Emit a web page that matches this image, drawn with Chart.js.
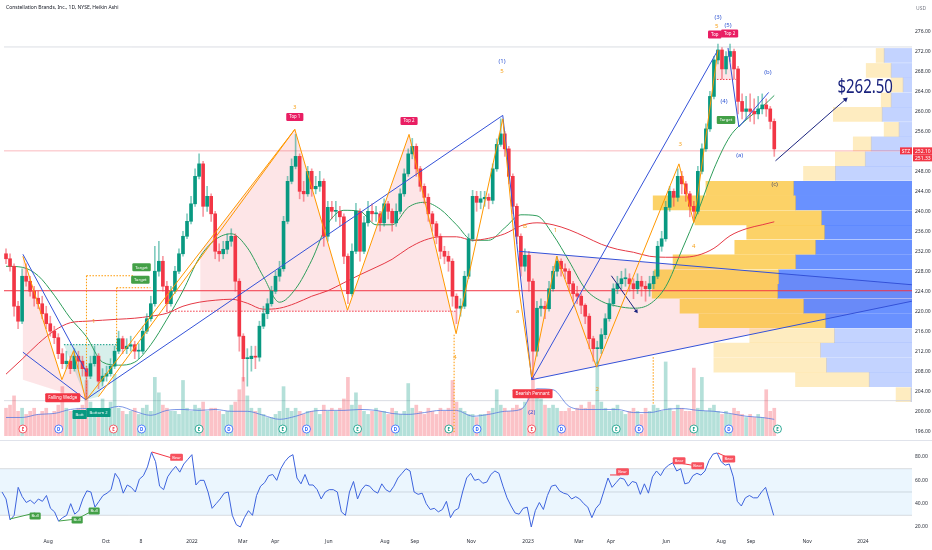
<!DOCTYPE html>
<html>
<head>
<meta charset="utf-8">
<script src="https://cdn.jsdelivr.net/npm/chart.js@4.4.1/dist/chart.umd.min.js"></script>
<style>
html,body{margin:0;padding:0;background:#ffffff;}
#wrap{position:relative;width:932px;height:550px;overflow:hidden;background:#fff;font-family:"Noto Sans",Roboto,sans-serif;}
#c1{position:absolute;left:0;top:0;width:932px;height:440px;}
#c2{position:absolute;left:0;top:441px;width:932px;height:109px;}
#sep{position:absolute;left:0;top:440px;width:932px;height:1px;background:#e0e3eb;}
#title{position:absolute;left:6px;top:4px;font-size:5px;line-height:6px;color:#131722;white-space:nowrap;}
#usd{position:absolute;left:916px;top:5px;font-size:5px;line-height:6px;color:#787b86;}
</style>
</head>
<body>
<div id="wrap">
<canvas id="c1" width="932" height="440"></canvas>
<div id="sep"></div>
<canvas id="c2" width="932" height="109"></canvas>
<div id="title">Constellation Brands, Inc., 1D, NYSE, Heikin Ashi</div>
<div id="usd">USD</div>
</div>
<script>
// ---------------- DATA (Heikin Ashi candles, one slot ≈ 3 sessions) ----------------
const firstOpen = 231.5;
const closes = [
230.5,229,221,218,227,226,224,222.6,221.5,219.5,
217.5,216,214.7,211.5,209.5,210,208.5,211,210,208.5,
207,209.5,211,206,207,207.5,209,212,214.5,212.5,
213,213.3,212,212,216,218.5,221.5,228,230,225,
221.5,224,228,231.5,235,238,241.5,247,249.5,241,
243,239.5,232,231.5,232.4,234,235,226,215,210.5,
210.5,211,210.8,217,219.5,221.5,224,227,228.5,238,
246,249,251,244,243.5,248,244.5,245,246,235,
240.8,240,240,238.9,231,223.5,232,240,232,237.7,
240,239.5,239.5,237.7,241.5,240,237.7,240,243.5,247.5,
251.5,253,248.5,245,242.8,239.5,237.5,235,232,231,
230,223,220.6,221,227,234.5,243,241.8,242.5,242.8,
242.2,248.5,253.4,255.5,252.5,247,241,235,229,231.2,
226,212,220.6,221,220.5,224.5,228,230,228.5,228,
225.5,223.5,223,221.2,219,214.5,212.5,212.5,215.3,218.5,
221.5,224.5,225.5,226.5,226.5,225.5,224.5,226,225,224.5,
225.5,227,233,234.5,240.8,244,242.8,247,245.5,243.5,
241,240,248,252.5,256.5,263,270.3,272.3,268.5,271,
272,268.5,262,260,260.5,260,259.5,260.5,261.3,260.5,
258,252.5];
const highs = [
232.5,231.5,229.5,222,228.5,229.5,227,225,224,223,
221,219,217,215.5,212.5,212,211,212.5,212,211,
209,211,213,211.5,208.5,209,210.5,213,216,215,
214.5,215,214,213.5,217,219.5,223,233,234,231,
226,225,229,232.5,236,239.5,243,248.5,251.5,250,
245,243.5,240,233.5,234,235.5,236.5,235.5,226.5,215.5,
212.5,213,213,218,221,222.5,225,228,230,239,
247,250.5,255.4,251.5,246,249,248.5,247,248,246.5,
242,242,242,241,239.5,231.5,233.5,241.6,240.5,239,
242,241.5,241,240,242.5,242,240.5,241.5,244.5,248.5,
252.5,254.6,253.5,249,245.5,243.5,240,238,235.5,233,
232,230.5,223.5,222.5,228,235.5,244.2,244,244,244,
243.5,249.5,254.5,258.5,256,253,247.5,241.5,235.5,232.5,
232,226.5,222,222.5,222,226,229,231,230.5,229.5,
228.5,226,225,223.5,221.5,219.5,215,214,216.5,219.5,
222.5,225.5,227,228,228.5,227.5,226.5,227.5,227,226,
227,228,234,236,242,245,244.5,248.5,248,246,
244,242,249,253.5,257.5,264,271,273.5,272.8,272,
273.5,272.5,269,263.5,263,263.5,262.5,263,263.5,262.5,
261,258.5];
const lows = [
229.5,228,219,216.5,217.5,225,223,221,220.5,218.5,
216.5,215,213.5,210.5,208.5,208.5,207.5,208,208.5,207,
202.5,206.5,209,204.5,205,206,207,208.5,211.5,211.5,
211.5,212,210.5,210.5,211.5,215.5,218,221,227,224,
220,221,223.5,227.5,231,234.5,237.5,241,246.5,239,
240,238,230.5,230,230.5,231.5,233,224,212,206,
205,208,208.5,210,216.5,218.5,221,223.5,226,228,
237.5,245.5,248.5,242.5,242,243,243,243.5,244,233,
234,238.5,238,237,229.5,221.5,223,231.5,230,231.5,
237,238,238,236,237,238.5,236,237,239.5,243,
247,250.5,247,244,241.5,238,236,233.5,230.5,229.5,
228,221,217.5,219,220.5,226.5,234,240,240.5,241,
240.5,241.5,248,253,251,245.5,239.5,233.5,227,228,
224,206.3,211,219,218.5,220,224,227,227,226.5,
224,222,221.5,219.5,217.5,212.5,210,209.5,211.5,214.5,
218,221,223.5,224.5,225,224,222.5,223.5,223,222,
223,224.5,226.5,232,234,240,241,242,243.5,242,
238.9,238,239.5,247.5,252,256,262.5,269.5,266.5,267.5,
270,266.5,259.5,258.5,258.5,258,257.5,258.5,259.5,259,
256.5,251];
const volumes = [
0.9,1.0,1.3,0.8,0.9,0.7,0.8,0.9,0.7,0.8,
0.9,0.7,0.8,1.0,1.6,0.9,0.8,0.7,0.9,1.0,
1.8,1.1,0.9,0.8,1.2,0.9,1.1,2.0,0.9,0.8,
0.7,0.8,0.9,0.7,0.9,1.0,0.8,1.9,1.4,1.0,
0.9,0.8,0.8,0.7,1.8,0.9,0.8,1.0,0.9,1.1,
0.8,0.9,0.9,0.8,0.7,0.8,1.0,1.1,1.5,1.9,
1.3,0.9,0.8,0.9,0.7,0.6,0.6,0.7,0.8,1.6,
0.9,0.8,0.9,0.8,0.7,0.8,0.8,0.9,0.7,1.0,
0.8,0.9,0.8,0.9,1.2,1.9,1.0,1.4,1.0,0.8,
0.7,0.8,0.9,0.8,0.8,0.7,0.9,0.8,0.7,0.8,
1.7,0.9,1.0,0.8,0.7,0.9,0.8,0.7,0.9,0.8,
0.9,1.8,1.1,0.9,0.8,0.7,0.7,0.6,0.7,0.7,
0.8,0.9,1.5,1.0,0.9,0.8,0.9,1.0,0.9,1.1,
1.4,1.9,1.5,1.2,1.0,0.9,1.0,0.9,0.8,0.8,
0.9,0.8,0.9,1.0,0.9,1.1,1.0,2.4,1.1,0.9,
0.8,0.9,1.0,0.8,0.7,0.8,0.9,0.8,0.7,0.9,
0.8,1.0,0.9,0.8,2.4,0.9,0.8,1.0,0.9,0.8,
0.8,2.2,0.9,1.9,0.8,0.9,1.0,0.8,0.7,0.8,
0.7,0.9,0.8,0.7,0.6,0.7,0.6,0.7,0.6,1.5,
0.8,0.9];
const rsiValues = [
50,44,26,30,54,46,41,43,40,44,
42,47,36,33,25,28,30,40,31,34,
44,51,50,37,42,47,49,52,66,61,
49,56,54,50,61,64,71.5,84,76,55,
52,63,68,72,67,74,78,82,56,60,
60,50,36,40,44,49,50,30,22,20,
28,34,30,47,55,58,64,65,60,70,
76,80,82,62,57,65,56,56,52,44,
50,52,52,50,33,30,50,59,44,52,
56,55,51,49,57,52,50,55,62,66,
70,68,50,48,49,40,35,36,33,35,
42,28,34,36,50,62,66,60,61,57.5,
58.5,65,68,66,55,45,38,32,31,36,
37,20,34,41,35,47,55,56,51,49,
48,44,46,44,40,37,28,36,40,51,
62,54,58,62,61,55,59,58,48,57,
49,63,68,64,70,73,75,68,70,57,
58,64,66,64.5,68,77,82.5,83.5,76,73,
74,63,42,38,45,47,45,45,50,54,
42,30];
// moving averages sampled every 4th candle (last value = last candle)
const MA_STEP = 4;
const sma50 = [229.0,228.8,227.1,223.2,218.6,214.9,209.8,209.2,209.8,213.3,
218.4,224.1,230.6,234.3,235.5,232.7,226.9,221.8,224.5,230.2,
237.5,240.2,240.0,237.3,237.3,240.8,241.8,240.4,237.3,234.2,
234.2,236.7,239.3,239.1,235.3,230.0,224.5,222.0,221.0,220.6,
221.4,224.9,232.2,239.9,248.5,255.0,258.3,260.9,263.2];
const sma200 = [207.4,210.4,213.5,216.1,217.7,218.0,218.2,218.4,218.6,219.0,
219.6,221.0,221.8,222.2,222.4,221.6,220.4,220.6,221.6,223.0,
224.1,225.7,227.3,228.8,230.4,232.6,234.2,234.9,234.9,234.2,
234.6,235.5,237.1,237.7,237.3,236.3,234.9,233.4,232.4,231.8,
231.0,230.8,230.8,231.2,232.6,235.1,236.5,237.3,237.9];
const volumeMA = [0.6,0.6,0.7,0.73,0.86,0.89,0.86,0.96,0.8,0.67,
0.83,0.86,0.83,0.86,0.8,0.8,0.67,0.54,0.64,0.8,
0.83,0.83,0.86,0.83,0.73,0.7,0.76,0.83,0.83,0.64,
0.7,0.8,0.86,1.53,1.5,0.96,0.86,0.86,0.86,0.76,
0.76,0.86,0.89,0.83,0.8,0.73,0.64,0.6,0.54];
// visible range volume profile (M shares per price row)
const profileRowPrice = [271.2,268.2,265.3,262.3,259.4,256.4,253.5,250.5,247.6,244.6,241.7,238.7,235.8,232.8,229.9,226.9,224.0,221.0,218.1,215.1,212.2,209.2,206.3,203.3];
const profileUp = [0.4,1.25,0.6,0.5,2.45,0.75,0.9,1.5,1.6,4.4,7.15,6.35,3.9,4.05,6.15,6.25,6.3,6.2,6.35,4.25,5.35,5.65,3.7,0.75];
const profileDown = [1.4,1.05,0.45,1.05,1.5,0.65,2.05,2.35,3.85,5.95,5.85,4.55,4.4,4.85,5.85,6.7,6.75,5.45,4.35,3.9,4.6,4.3,2.15,0.05];
const valueAreaRows = [9, 18];
// axis labels (candle slot positions)
const xTickIndex = [11.9,26.2,34.9,47.5,60.1,68.1,81.4,95.3,102.7,116.6,130.7,143.3,151.2,164.9,178.5,185.9,199.8,213.6];
const xTickLabels = ['Aug','Oct','8','2022','Mar','Apr','Jun','Aug','Sep','Nov','2023','Mar','Apr','Jun','Aug','Sep','Nov','2024'];
// price levels
const supportLevel = 224.1;
const necklinePrice = 220.0, necklineFrom = 40.3, necklineTo = 112.6;
const currentPrice = 252.1;
const rangeHigh = 272.9, rangeLow = 202.1;
const lastPriceTags = [252.10, 251.33];
const symbolTag = 'STZ';
// drawings [slot, price]
const wedgeUpper = [[4.7,231.4],[20.5,207.8]];
const wedgeLower = [[4.7,211.8],[20.3,202.3]];
const wedgeZigzag = [[4.7,231.0],[14.4,206.3],[17.3,212.1],[20.3,202.3]];
const wedgeZone = [[4.7,231.0],[14.4,206.3],[17.3,212.1],[20.3,202.3],[4.7,206.3],[4.7,231.0]];
const doubleBottomZone = [[14.9,213.3],[28.0,213.3],[23.5,202.9],[20.5,202.3],[14.9,213.3]];
const doubleBottomTop = [[14.9,213.3],[28.0,213.3]];
const riseLine1 = [[20.5,202.3],[72.3,256.4]];
const riseLine2 = [[23.5,202.9],[72.3,256.4]];
const waveZigzag = [[72.3,256.4],[85.4,220.2],[100.7,255.4],[112.4,215.5],[124.0,258.5],[128.0,224.5],[131.2,206.8],[137.4,231.0],[147.3,208.8],[167.8,249.5],[171.5,237.7],[177.5,272.3]];
const mPatternZone = [[48.8,220.0],[48.8,231.8],[72.3,256.4],[85.4,220.2],[100.7,255.4],[112.4,215.5],[112.4,220.0],[48.8,220.0]];
const blueTrend = [[20.3,202.3],[124.0,259.2],[131.2,206.3],[177.5,272.3]];
const pennantUpper = [[128.0,232.0],[225.7,225.3]];
const pennantLower = [[131.2,206.3],[225.7,222.0]];
const pennantZone = [[128.0,232.0],[225.7,225.3],[225.7,222.0],[131.2,206.3],[128.0,232.0]];
const topZone = [[176.5,266.4],[177.5,272.3],[178.7,268.1],[180.0,272.7],[181.9,266.4],[176.5,266.4]];
const topNeck = [[176.5,266.4],[181.9,266.4]];
const waveLines = [[180.0,272.7],[182.7,256.9],[190.1,263.8]];
const smallArrow = [[151.0,227.1],[157.2,220.0]];
const targetArrow = [[191.8,250.1],[209.2,262.4]];
const targetGuides = [
  [[20.5,227.1],[20.5,202.3]], [[20.5,227.1],[32.2,227.1]],
  [[28.0,224.7],[36.4,224.7]], [[28.0,224.7],[28.0,212.1]],
  [[111.9,215.3],[111.9,195.5]], [[161.4,210.8],[161.4,201.5]]
];
const earningsIdx = [4.7,27.2,48.5,69.3,87.9,110.6,131.2,152.2,171.5,192.3];
const earningsBeat = [false,false,true,true,true,true,false,true,true,true];
const dividendIdx = [13.6,34.2,55.9,75.2,97.3,117.6,138.6,157.9,180.2];
const annotations = [
 {t:'3', x:72.3, y:260.9, k:'orange'},
 {t:'Top 1', x:72.3, y:258.9, k:'top'},
 {t:'Top 2', x:100.7, y:258.1, k:'top'},
 {t:'(1)', x:123.8, y:270.1, k:'blue'},
 {t:'5', x:123.8, y:268.1, k:'orange'},
 {t:'(3)', x:177.5, y:278.9, k:'blue'},
 {t:'5', x:177.2, y:277.0, k:'orange'},
 {t:'(5)', x:180.0, y:277.2, k:'blue'},
 {t:'Top', x:176.7, y:275.4, k:'top'},
 {t:'Top 2', x:180.4, y:275.6, k:'top'},
 {t:'(b)', x:189.9, y:267.9, k:'blue'},
 {t:'(4)', x:179.0, y:262.0, k:'blue'},
 {t:'Target', x:179.5, y:258.3, k:'green'},
 {t:'(a)', x:182.9, y:251.2, k:'blue'},
 {t:'(c)', x:191.6, y:245.5, k:'dark'},
 {t:'3', x:168.1, y:253.4, k:'orange'},
 {t:'4', x:171.5, y:233.0, k:'orange'},
 {t:'1', x:137.1, y:236.1, k:'orange'},
 {t:'B', x:129.5, y:236.9, k:'orange'},
 {t:'a', x:127.7, y:220.0, k:'orange'},
 {t:'2', x:147.5, y:204.3, k:'orange'},
 {t:'4', x:112.1, y:210.7, k:'orange'},
 {t:'1', x:22.3, y:218.0, k:'orange'},
 {t:'(2)', x:131.2, y:199.7, k:'blue'},
 {t:'Bearish Pennant', x:131.4, y:203.5, k:'red'},
 {t:'Falling Wedge', x:14.6, y:202.7, k:'red'},
 {t:'Bott', x:18.8, y:199.3, k:'teal'},
 {t:'Bottom 2', x:23.5, y:199.7, k:'teal'},
 {t:'Target', x:34.2, y:228.8, k:'green'},
 {t:'Target', x:33.9, y:226.3, k:'green'},
 {t:'$262.50', x:214.1, y:264.8, k:'big'}
];
// RSI band & divergences
const rsiUpper = 70, rsiMid = 50, rsiLower = 30;
const bullLines = [[[2.5,26.9],[8.7,32.0]], [[14.6,25.1],[19.1,26.9]], [[19.1,26.9],[23.3,34.6]]];
const bearLines = [[[37.6,84.3],[42.6,79.1]], [[151.0,64.6],[153.5,64.6]], [[166.6,75.7],[172.5,72.3]], [[177.7,83.4],[180.4,79.1]]];
const rsiAnnotations = [
 {t:'Bull', x:8.7, y:29.4, k:'bull'}, {t:'Bull', x:19.1, y:26.0, k:'bull'}, {t:'Bull', x:23.3, y:33.7, k:'bull'},
 {t:'Bear', x:43.7, y:79.7, k:'bear'}, {t:'Bear', x:154.1, y:67.4, k:'bear'}, {t:'Bear', x:168.1, y:76.8, k:'bear'},
 {t:'Bear', x:172.7, y:72.5, k:'bear'}, {t:'Bear', x:180.4, y:78.3, k:'bear'}
];

// ---------------- LAYOUT / STYLE ----------------
const X_MAX = 225.74;
const PROF_UNITS = 4.95;
const FONT = '"Noto Sans", Roboto, sans-serif';
const UP = '#089981', DN = '#f23645';
Chart.defaults.font.family = FONT;

const N = closes.length;
const opens = closes.map((c, i) => i === 0 ? firstOpen : closes[i - 1]);
const isUp = closes.map((c, i) => c >= opens[i]);
const P = arr => arr.map(([x, y]) => ({x, y}));

function seg(points, color, extra) {
  return Object.assign({type:'line', data:P(points), borderColor:color, borderWidth:1, pointRadius:0,
    fill:false, tension:0, order:5}, extra || {});
}
function zone(points, color, order) {
  return {type:'line', data:P(points), fill:'shape', backgroundColor:color, borderWidth:0, borderColor:'rgba(0,0,0,0)',
    pointRadius:0, tension:0, order:order || 30};
}
function maLine(arr, color, axis, order, width) {
  return {type:'line', yAxisID:axis, data:arr.map((v, k) => ({x:Math.min(k * MA_STEP, N - 1) + 0.5, y:v})),
    borderColor:color, borderWidth:width || 1, pointRadius:0, fill:false, cubicInterpolationMode:'monotone', order:order};
}

const STYLES = {
  orange:{color:'#f7a21b', size:6},
  blue:{color:'#3056d3', size:6},
  dark:{color:'#4b4f6b', size:6},
  top:{bg:'#e91e63', size:4.4, padX:3, h:8},
  red:{bg:'#f23645', size:4.4, padX:3, h:9},
  green:{bg:'#43a047', size:4.2, padX:3, h:8},
  teal:{bg:'#089981', size:4.2, padX:3, h:9},
  big:{color:'#1a237e', size:20, scaleX:0.75},
  bull:{bg:'#43a047', size:4, padX:2, h:7},
  bear:{bg:'#f7525f', size:4, padX:2, h:7}
};
function drawLabels(chart, list) {
  const ctx = chart.ctx, xs = chart.scales.x, ys = chart.scales.y;
  ctx.save();
  ctx.textAlign = 'center'; ctx.textBaseline = 'middle';
  for (const a of list) {
    const st = STYLES[a.k];
    const px = xs.getPixelForValue(a.x), py = ys.getPixelForValue(a.y);
    ctx.font = st.size + 'px ' + FONT;
    if (st.bg) {
      const w = ctx.measureText(a.t).width + st.padX * 2;
      ctx.fillStyle = st.bg;
      ctx.beginPath();
      if (ctx.roundRect) ctx.roundRect(px - w / 2, py - st.h / 2, w, st.h, 1.2); else ctx.rect(px - w / 2, py - st.h / 2, w, st.h);
      ctx.fill();
      ctx.fillStyle = '#fff';
      ctx.fillText(a.t, px, py + 0.3);
    } else if (st.scaleX) {
      ctx.save(); ctx.translate(px, py); ctx.scale(st.scaleX, 1);
      ctx.fillStyle = st.color; ctx.fillText(a.t, 0, 0); ctx.restore();
    } else {
      ctx.fillStyle = st.color; ctx.fillText(a.t, px, py);
    }
  }
  ctx.restore();
}
function marker(ctx, cx, cy, col, letter) {
  ctx.beginPath(); ctx.arc(cx, cy, 4, 0, Math.PI * 2);
  ctx.fillStyle = '#fff'; ctx.fill();
  ctx.lineWidth = 0.8; ctx.strokeStyle = col; ctx.stroke();
  ctx.fillStyle = col; ctx.font = 'bold 4.5px ' + FONT;
  ctx.textAlign = 'center'; ctx.textBaseline = 'middle';
  ctx.fillText(letter, cx, cy + 0.3);
}
const mainPlugin = {
  id:'mainDecor',
  afterDatasetsDraw(chart) {
    const {ctx, chartArea, scales} = chart;
    ctx.save();
    const cy = chartArea.bottom - 7;
    earningsIdx.forEach((u, i) => marker(ctx, scales.x.getPixelForValue(u), cy, earningsBeat[i] ? UP : DN, 'E'));
    dividendIdx.forEach(u => marker(ctx, scales.x.getPixelForValue(u), cy, '#2962ff', 'D'));
    ctx.restore();
    drawLabels(chart, annotations);
  },
  afterDraw(chart) {
    const {ctx, chartArea, scales} = chart;
    ctx.save();
    ctx.font = '5px ' + FONT; ctx.textBaseline = 'middle';
    let prev = -99;
    lastPriceTags.forEach((v, i) => {
      const py = Math.max(scales.y.getPixelForValue(v), prev + 7);
      prev = py;
      ctx.fillStyle = DN;
      ctx.fillRect(chartArea.right + 1, py - 3.5, chart.width - chartArea.right - 1, 7);
      ctx.fillStyle = '#fff'; ctx.textAlign = 'left';
      ctx.fillText(v.toFixed(2), chartArea.right + 3, py + 0.3);
      if (i === 0) {
        ctx.fillStyle = DN;
        ctx.fillRect(chartArea.right - 12, py - 3.5, 12, 7);
        ctx.fillStyle = '#fff'; ctx.textAlign = 'center';
        ctx.fillText(symbolTag, chartArea.right - 6, py + 0.3);
      }
    });
    ctx.restore();
  }
};

// ---------------- MAIN CHART ----------------
const profColor = (k, up) => {
  const va = k >= valueAreaRows[0] && k <= valueAreaRows[1];
  return up ? (va ? 'rgba(251,192,45,0.72)' : 'rgba(251,192,45,0.3)') : (va ? 'rgba(41,98,255,0.7)' : 'rgba(41,98,255,0.28)');
};
const datasets = [
  zone(mPatternZone, 'rgba(242,54,69,0.13)'),
  zone(wedgeZone, 'rgba(242,54,69,0.13)'),
  zone(pennantZone, 'rgba(242,54,69,0.13)'),
  zone(topZone, 'rgba(242,54,69,0.13)'),
  zone(doubleBottomZone, 'rgba(8,153,129,0.16)'),
  {type:'bar', indexAxis:'y', grouped:false, barThickness:14, order:25, borderWidth:0,
   data:profileRowPrice.map((p, k) => { const xb = X_MAX - profileDown[k] * PROF_UNITS; return {y:p, x:[xb - profileUp[k] * PROF_UNITS, xb]}; }),
   backgroundColor:profileRowPrice.map((p, k) => profColor(k, true))},
  {type:'bar', indexAxis:'y', grouped:false, barThickness:14, order:25, borderWidth:0,
   data:profileRowPrice.map((p, k) => ({y:p, x:[X_MAX - profileDown[k] * PROF_UNITS, X_MAX]})),
   backgroundColor:profileRowPrice.map((p, k) => profColor(k, false))},
  seg([[0, rangeHigh], [X_MAX, rangeHigh]], '#d1d4dc', {order:22, borderWidth:0.8}),
  seg([[0, rangeLow], [X_MAX, rangeLow]], '#d1d4dc', {order:22, borderWidth:0.8}),
  seg([[0, supportLevel], [X_MAX, supportLevel]], '#f23645', {order:20}),
  seg([[0, currentPrice], [X_MAX, currentPrice]], 'rgba(242,54,69,0.35)', {order:20}),
  seg([[necklineFrom, necklinePrice], [necklineTo, necklinePrice]], '#f23645', {order:20, borderDash:[1.5, 1.5]}),
  seg(topNeck, '#f23645', {order:20, borderDash:[1.5, 1.5]}),
  seg(doubleBottomTop, '#089981', {order:20, borderDash:[1.5, 1.5]}),
  {type:'bar', yAxisID:'yv', grouped:false, barThickness:3, order:18, borderWidth:0,
   data:volumes.map((v, i) => ({x:i + 0.5, y:v})),
   backgroundColor:isUp.map(u => u ? 'rgba(8,153,129,0.3)' : 'rgba(242,54,69,0.3)')},
  maLine(volumeMA, '#5b7be0', 'yv', 17, 0.8),
  maLine(sma200, '#e53945', 'y', 15),
  maLine(sma50, '#2e9d5b', 'y', 15),
  ...targetGuides.map(g => seg(g, '#ff9800', {order:14, borderDash:[1.5, 1.5]})),
  {type:'bar', grouped:false, barThickness:1, order:12, borderWidth:0,
   data:closes.map((c, i) => ({x:i + 0.5, y:[lows[i], highs[i]]})),
   backgroundColor:isUp.map(u => u ? 'rgba(8,153,129,0.5)' : 'rgba(242,54,69,0.5)')},
  {type:'bar', grouped:false, barThickness:3, order:11, borderWidth:0, minBarLength:1,
   data:closes.map((c, i) => ({x:i + 0.5, y:[opens[i], c]})),
   backgroundColor:isUp.map(u => u ? UP : DN)},
  seg(wedgeUpper, '#3452d8'),
  seg(wedgeLower, '#3452d8'),
  seg(wedgeZigzag, '#ff9800'),
  seg(riseLine1, '#ff9800'),
  seg(riseLine2, '#ff9800'),
  seg(waveZigzag, '#ff9800'),
  seg(blueTrend, '#3452d8'),
  seg(pennantUpper, '#3452d8'),
  seg(pennantLower, '#3452d8'),
  seg(waveLines, '#3452d8'),
  seg(smallArrow, '#1a237e', {pointRadius:[0, 2.5], pointStyle:'triangle', pointRotation:145, pointBackgroundColor:'#1a237e', pointBorderWidth:0}),
  seg(targetArrow, '#1a237e', {pointRadius:[0, 3], pointStyle:'triangle', pointRotation:48, pointBackgroundColor:'#1a237e', pointBorderWidth:0})
];

const yTick = v => (v >= 196 && v <= 276 && Math.abs(v % 4) < 1e-6) ? v.toFixed(2) : '';
new Chart(document.getElementById('c1'), {
  type:'bar',
  data:{datasets},
  options:{
    responsive:false, animation:false, events:[], devicePixelRatio:1,
    layout:{padding:0},
    plugins:{legend:{display:false}, tooltip:{enabled:false}, title:{display:false}},
    scales:{
      x:{type:'linear', min:0, max:X_MAX, display:false, offset:false, grid:{display:false, offset:false}},
      y:{type:'linear', position:'right', min:195.02, max:281.5, offset:false,
         grid:{display:false, drawTicks:false, offset:false}, border:{display:false},
         ticks:{stepSize:4, includeBounds:false, color:'#2a2e39', font:{size:5}, padding:3, callback:yTick},
         afterFit(s){ s.width = 20; s.paddingTop = 0; s.paddingBottom = 0; }},
      yv:{type:'linear', display:false, min:0, max:14, offset:false}
    }
  },
  plugins:[mainPlugin]
});

// ---------------- RSI CHART ----------------
const rsiDatasets = [
  {type:'line', data:[{x:0, y:rsiUpper}, {x:X_MAX, y:rsiUpper}], borderColor:'rgba(120,123,134,0.25)', borderWidth:1, pointRadius:0,
   fill:'+1', backgroundColor:'rgba(33,150,243,0.09)', order:20},
  {type:'line', data:[{x:0, y:rsiLower}, {x:X_MAX, y:rsiLower}], borderColor:'rgba(120,123,134,0.25)', borderWidth:1, pointRadius:0, fill:false, order:19},
  {type:'line', data:[{x:0, y:rsiMid}, {x:X_MAX, y:rsiMid}], borderColor:'rgba(120,123,134,0.25)', borderWidth:1, pointRadius:0, fill:false, order:18},
  {type:'line', data:rsiValues.map((v, i) => ({x:i + 0.5, y:v})), borderColor:'#3d63dd', borderWidth:1, pointRadius:0, fill:false, tension:0, order:10},
  ...bullLines.map(l => seg(l, '#43a047', {order:5})),
  ...bearLines.map(l => seg(l, '#f23645', {order:5}))
];
new Chart(document.getElementById('c2'), {
  type:'line',
  data:{datasets:rsiDatasets},
  options:{
    responsive:false, animation:false, events:[], devicePixelRatio:1,
    layout:{padding:0},
    plugins:{legend:{display:false}, tooltip:{enabled:false}},
    scales:{
      x:{type:'linear', min:0, max:X_MAX, offset:false, grid:{display:false, drawTicks:false}, border:{display:false},
         afterBuildTicks(s){ s.ticks = xTickIndex.map(v => ({value:v})); },
         ticks:{autoSkip:false, maxRotation:0, color:'#2a2e39', font:{size:5}, padding:4, callback:(v, i) => xTickLabels[i]},
         afterFit(s){ s.height = 15; s.paddingLeft = 0; s.paddingRight = 0; }},
      y:{type:'linear', position:'right', min:13.14, max:93.71, offset:false, grid:{display:false, drawTicks:false}, border:{display:false},
         ticks:{stepSize:20, includeBounds:false, color:'#2a2e39', font:{size:5}, padding:3,
                callback:v => (v >= 20 && v <= 80) ? v.toFixed(2) : ''},
         afterFit(s){ s.width = 20; s.paddingTop = 0; s.paddingBottom = 0; }}
    }
  },
  plugins:[{id:'rsiLabels', afterDatasetsDraw(chart){ drawLabels(chart, rsiAnnotations); }}]
});
</script>
</body>
</html>
